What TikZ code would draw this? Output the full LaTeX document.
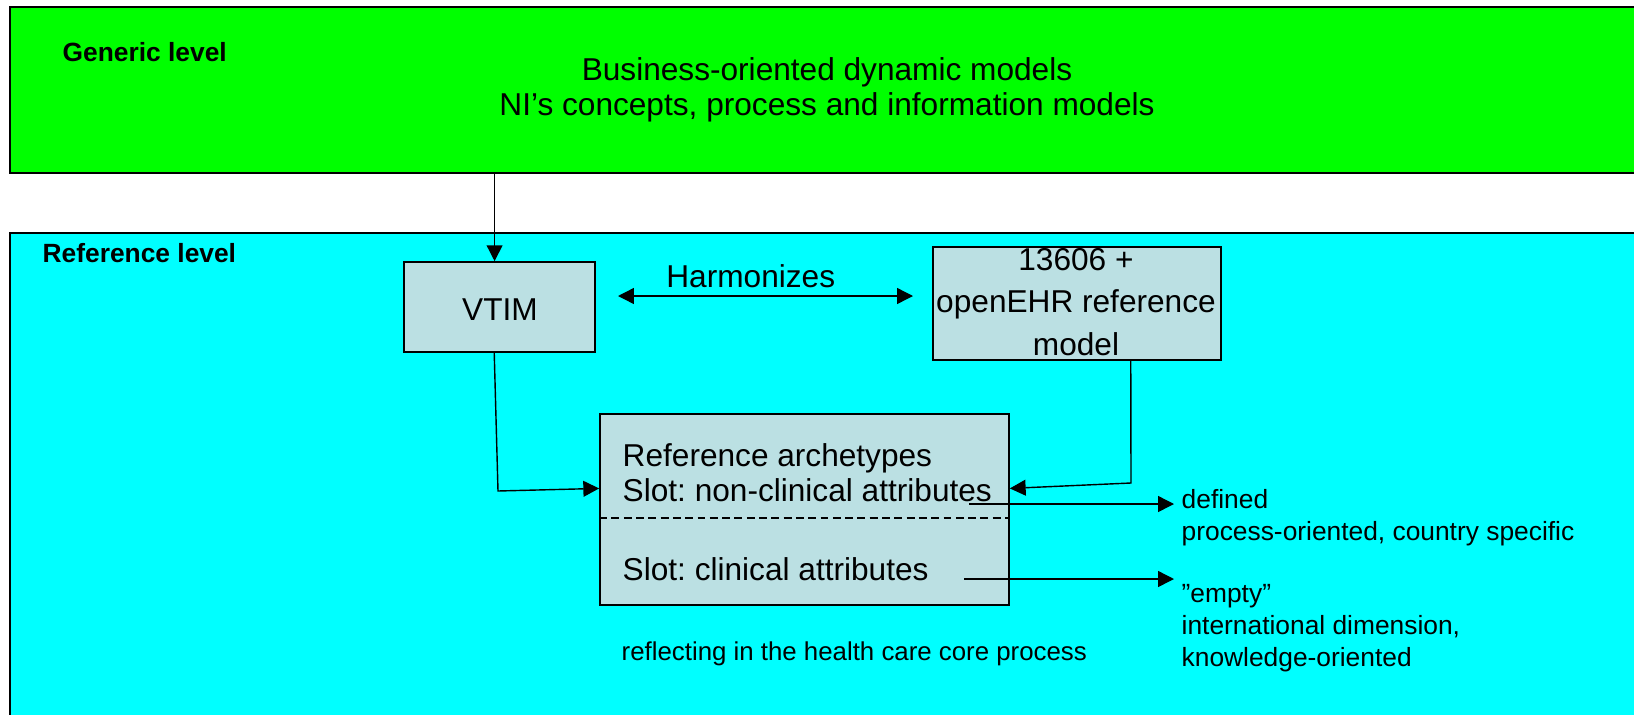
\documentclass[tikz,border=0pt]{standalone}
\usepackage{fontspec}
\setmainfont{Liberation Sans}
\usetikzlibrary{arrows.meta}
\frenchspacing
\definecolor{levelgreen}{RGB}{0,255,0}
\definecolor{levelcyan}{RGB}{0,255,255}
\definecolor{boxblue}{RGB}{187,224,227}
\tikzstyle{level}=[draw=black, line width=1pt, anchor=north west, inner sep=0pt]
\tikzstyle{box}=[draw=black, fill=boxblue, line width=1pt, inner sep=0pt]
\tikzstyle{big}=[font=\fontsize{18}{20}\selectfont, align=center, inner sep=0pt]
\tikzstyle{small}=[font=\fontsize{15}{18.5}\selectfont, align=left, inner sep=0pt, anchor=west]
\tikzstyle{title}=[font=\fontsize{15}{18}\selectfont\bfseries, inner sep=0pt, anchor=west]

\begin{document}
\begin{tikzpicture}[x=0.02cm, y=-0.02cm, >={Triangle[length=9pt, width=9pt]}, line width=0.8pt]
\clip (0,0) rectangle (1634,714);

\node (generic) at (9,6) [level, fill=levelgreen, minimum width=33cm, minimum height=3.32cm] {};
\node (reflevel) at (9,232) [level, fill=levelcyan, minimum width=33cm, minimum height=10cm] {};

\node (gtitle) at (62,52) [title] {Generic level};
\node (rtitle) at (42,253) [title] {Reference level};
\node (business) at (827,90) [big, font=\fontsize{18}{19.8}\selectfont] {Business-oriented dynamic models\\NI’s concepts, process and information models};

\node (vtim) at (499.5,307) [box, minimum width=3.82cm, minimum height=1.8cm] {};
\node (vtimtext) at (500,310) [big] {VTIM};
\node (ehr) at (1077,303.5) [box, minimum width=5.76cm, minimum height=2.26cm] {};
\node (ehrtext) at (1076,302) [big, font=\fontsize{18}{24.4}\selectfont] {13606 +\\openEHR reference\\model};

\node (refbox) at (804.5,509.5) [box, minimum width=8.18cm, minimum height=3.82cm] {};
\draw[dash pattern=on 4.5pt off 2.5pt] (refbox.west |- 0,518) -- (refbox.east |- 0,518);
\node (archetypes) at (622,472.5) [big, align=left, anchor=west] {Reference archetypes\\Slot: non-clinical attributes};
\node (clinical) at (622,569) [big, align=left, anchor=west] {Slot: clinical attributes};
\node (reflecting) at (621,654) [small, font=\fontsize{14.7}{18}\selectfont] {reflecting in the health care core process};

\node (defined) at (1181,517.5) [small] {defined\\process-oriented, country specific};
\node (empty) at (1181,628) [small, font=\fontsize{15}{18.2}\selectfont] {”empty”\\international dimension,\\knowledge-oriented};

\coordinate (h1) at (618,296);
\coordinate (h2) at (913,296);
\coordinate (s1) at (969,504);
\coordinate (e1) at (1174,504);
\coordinate (s2) at (964,579);
\coordinate (e2) at (1174,579);

\draw[->] ([xshift=-2.8pt]generic.south -| vtim.north) -- ([xshift=-2.8pt]vtim.north);
\draw[<->] (h1) -- (h2) node [pos=0.45, above=4pt, big] {Harmonizes};
\draw[->] ([xshift=-3pt]vtim.south) -- (498,491) -- ([yshift=12pt]refbox.west);
\draw[->] ([xshift=30.6pt]ehr.south) -- (1131,483) -- ([yshift=12pt]refbox.east);
\draw[->] (s1) -- (e1);
\draw[->] (s2) -- (e2);

\end{tikzpicture}
\end{document}
